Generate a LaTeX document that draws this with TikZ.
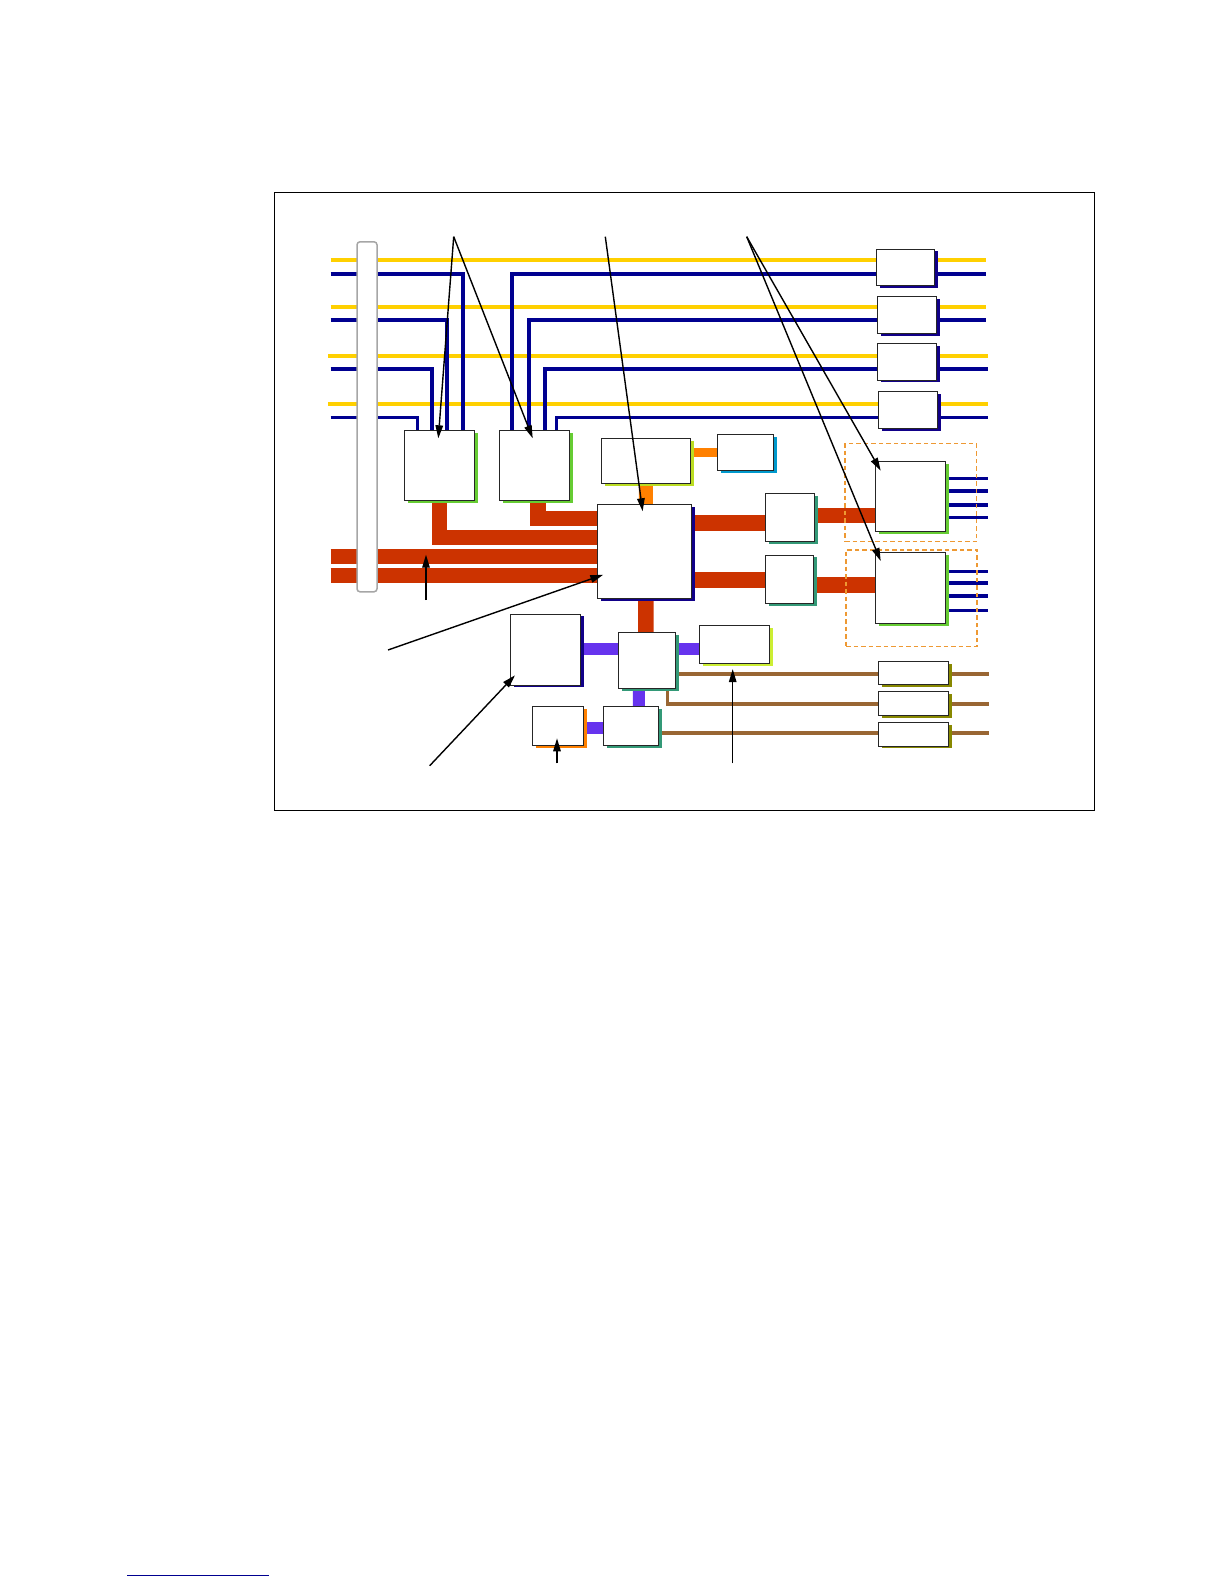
\documentclass[tikz,border=0pt]{standalone}
\usepackage{amssymb,amsmath}
\usepackage{tikz}
\usetikzlibrary{arrows.meta,calc,shadows,backgrounds}

\definecolor{busyellow}{HTML}{FFD000}
\definecolor{busblue}{HTML}{000090}
\definecolor{busred}{HTML}{CC3300}
\definecolor{busorange}{HTML}{FF8000}
\definecolor{buspurple}{HTML}{6633EE}
\definecolor{busbrown}{HTML}{996633}
\definecolor{shgreen}{HTML}{66CC33}
\definecolor{shlime}{HTML}{BBDD22}
\definecolor{shyellow}{HTML}{CCEE33}
\definecolor{shcyan}{HTML}{0099CC}
\definecolor{shteal}{HTML}{339977}
\definecolor{shnavy}{HTML}{110088}
\definecolor{sholive}{HTML}{888800}
\definecolor{dashorange}{HTML}{EE9933}

\tikzset{
	block/.style={draw=black!85,fill=white,line width=1pt,inner sep=0pt,outer sep=0pt},
	shblock/.style={block,drop shadow={shadow xshift=3.7pt,shadow yshift=-2.4pt,fill=#1,opacity=1}},
	yellowbus/.style={busyellow,line width=4pt},
	bluebus/.style={busblue,line width=4pt},
	thinbus/.style={busblue,line width=3pt},
	redbus/.style={busred,line width=15.5pt},
	orangebus/.style={busorange,line width=14pt},
	purplebus/.style={buspurple,line width=12pt},
	brownbus/.style={busbrown,line width=3.6pt},
	dashbox/.style={draw=dashorange,line width=1.5pt,dash pattern=on 4.5pt off 3pt,inner sep=0pt,outer sep=0pt},
	callout/.style={->,black,line width=1.4pt}
}

\begin{document}
\begin{tikzpicture}[x=1pt,y=-1pt,>={Stealth[length=13pt,width=7.5pt,inset=0pt]}]
			\useasboundingbox (0,0) rectangle (1224,1584);
			\node[draw=black,line width=1.2pt,inner sep=0pt,minimum width=820pt,minimum height=618pt] (frame) at (684.3,501.3) {};

			% side bar
			\node[draw=black!35,fill=white,line width=1.5pt,rounded corners=3pt,inner sep=0pt,outer sep=0pt,minimum width=20pt,minimum height=350pt] (bar) at (367,416.8) {};

			% upper blocks
			\node[shblock=shgreen,minimum width=70pt,minimum height=70pt] (memA) at (439.3,465.3) {};
			\node[shblock=shgreen,minimum width=70pt,minimum height=70pt] (memB) at (534.7,465.3) {};
			\node[shblock=shlime,minimum width=88.3pt,minimum height=44.6pt] (ctrl) at (645.85,461) {};
			\node[shblock=shcyan,minimum width=56.4pt,minimum height=36pt] (aux) at (745.5,452.3) {};
			\node[shblock=shnavy,minimum width=93.7pt,minimum height=94pt] (hub) at (644.15,551.3) {};
			\node[shblock=shteal,minimum width=48.6pt,minimum height=48pt] (bridgeA) at (790,517.7) {};
			\node[shblock=shteal,minimum width=48pt,minimum height=48.7pt] (bridgeB) at (789.7,579.35) {};
			\node[shblock=shgreen,minimum width=70pt,minimum height=69.6pt] (portA) at (910,496.5) {};
			\node[shblock=shgreen,minimum width=70pt,minimum height=70.6pt] (portB) at (910,588) {};

			% blocks on the long buses
			\node[shblock=shnavy,minimum width=58pt,minimum height=36.3pt] (linkA) at (905.3,267.15) {};
			\node[shblock=shnavy,minimum width=59.4pt,minimum height=37.4pt] (linkB) at (907,315) {};
			\node[shblock=shnavy,minimum width=59.4pt,minimum height=36.3pt] (linkC) at (907,361.85) {};
			\node[shblock=shnavy,minimum width=58.6pt,minimum height=36.6pt] (linkD) at (908,410) {};

			% lower blocks
			\node[shblock=shnavy,minimum width=70.4pt,minimum height=71pt] (store) at (545.5,649.5) {};
			\node[shblock=shteal,minimum width=56.3pt,minimum height=56pt] (south) at (646.85,660.3) {};
			\node[shblock=shyellow,minimum width=70.3pt,minimum height=38pt] (video) at (734.15,644.7) {};
			\node[shblock=busorange,minimum width=51pt,minimum height=39pt] (flash) at (558.2,725.8) {};
			\node[shblock=shteal,minimum width=55pt,minimum height=39pt] (super) at (631.2,725.8) {};
			\node[shblock=sholive,minimum width=70pt,minimum height=23.4pt] (slotA) at (913.3,673) {};
			\node[shblock=sholive,minimum width=70pt,minimum height=24pt] (slotB) at (913.3,703.3) {};
			\node[shblock=sholive,minimum width=70pt,minimum height=23.7pt] (slotC) at (913.3,734.15) {};

			% dashed groups
			\node[dashbox,minimum width=131.3pt,minimum height=98pt] (groupA) at (910.65,492.7) {};
			\node[dashbox,minimum width=131pt,minimum height=96.3pt] (groupB) at (911.5,598.15) {};

			% free ends
			\coordinate (y1w) at (330.7,260.3);
			\coordinate (y1e) at (985.7,260.3);
			\coordinate (y2w) at (330.7,307);
			\coordinate (y2e) at (985.7,307);
			\coordinate (y3w) at (328,355.7);
			\coordinate (y3e) at (987.7,355.7);
			\coordinate (y4w) at (328,404);
			\coordinate (y4e) at (987.7,404);
			\coordinate (b1w) at (330.7,274.3);
			\coordinate (b1e) at (985.7,274.3);
			\coordinate (b2w) at (330.7,320);
			\coordinate (b2e) at (985.7,320);
			\coordinate (b3w) at (330.7,369.3);
			\coordinate (b3e) at (987.7,369.3);
			\coordinate (b4w) at (330.7,417.7);
			\coordinate (b4e) at (987.7,417.7);
			\coordinate (redA) at (330.7,556.7);
			\coordinate (redB) at (330.7,575.5);
			\coordinate (railA) at (0,522.8);
			\coordinate (railB) at (0,579.8);
			\coordinate (railC) at (0,515.3);
			\coordinate (railD) at (0,584.8);
			\coordinate (railE) at (0,649.3);
			\coordinate (railF) at (0,728.3);
			\coordinate (railG) at (0,452.3);
			\coordinate (brownA) at (988.7,673.7);
			\coordinate (brownB) at (988.7,703.7);
			\coordinate (brownC) at (988.7,732.7);
			\coordinate (outA1) at (988.3,478.7);
			\coordinate (outA2) at (988.3,491);
			\coordinate (outA3) at (988.3,505.3);
			\coordinate (outA4) at (988.3,517.7);
			\coordinate (outB1) at (988.3,571);
			\coordinate (outB2) at (988.3,582.7);
			\coordinate (outB3) at (988.3,596);
			\coordinate (outB4) at (988.3,610);
			\coordinate (footA) at (127,1575);
			\coordinate (footB) at (269,1575);

			\begin{scope}[on background layer]
				\draw[yellowbus] (y1w) -- (y1e);
				\draw[yellowbus] (y2w) -- (y2e);
				\draw[yellowbus] (y3w) -- (y3e);
				\draw[yellowbus] (y4w) -- (y4e);
				\draw[bluebus] (b1w) -| ([xshift=23.4pt]memA.north);
				\draw[bluebus] (b2w) -| ([xshift=8pt]memA.north);
				\draw[bluebus] (b3w) -| ([xshift=-7.6pt]memA.north);
				\draw[thinbus] (b4w) -| ([xshift=-22pt]memA.north);
				\draw[bluebus] (b1e) -| ([xshift=-22.7pt]memB.north);
				\draw[bluebus] (b2e) -| ([xshift=-6pt]memB.north);
				\draw[bluebus] (b3e) -| ([xshift=10pt]memB.north);
				\draw[thinbus] (b4e) -| ([xshift=22pt]memB.north);
				\draw[redbus] (memA.south) |- ([yshift=13.6pt]hub.west);
				\draw[redbus] ([xshift=3.3pt]memB.south) |- ([yshift=33pt]hub.west);
				\draw[redbus] (redA) -- (hub.west |- redA);
				\draw[redbus] (redB) -- (hub.west |- redB);
				\draw[redbus] (hub.east |- railA) -- (bridgeA.west |- railA);
				\draw[redbus] (hub.east |- railB) -- (bridgeB.west |- railB);
				\draw[redbus] (bridgeA.east |- railC) -- (portA.west |- railC);
				\draw[redbus] (bridgeB.east |- railD) -- (portB.west |- railD);
				\draw[redbus] ([xshift=1.7pt]hub.south) -- ([xshift=-1pt]south.north);
				\draw[orangebus] (ctrl.south) -- ([xshift=1.7pt]hub.north);
				\draw[busorange,line width=9pt] (ctrl.east |- railG) -- (aux.west |- railG);
				\draw[purplebus] (store.east |- railE) -- (south.west |- railE);
				\draw[purplebus] (south.east |- railE) -- (video.west |- railE);
				\draw[purplebus] (flash.east |- railF) -- (super.west |- railF);
				\draw[purplebus] ([xshift=-8pt]south.south) -- ([xshift=7.65pt]super.north);
				\draw[brownbus] (south.east |- brownA) -- (brownA);
				\draw[brownbus] (brownB) -| ([xshift=20.8pt]south.south);
				\draw[brownbus] (super.east |- brownC) -- (brownC);
				\draw[thinbus] (portA.east |- outA1) -- (outA1);
				\draw[bluebus] (portA.east |- outA2) -- (outA2);
				\draw[bluebus] (portA.east |- outA3) -- (outA3);
				\draw[thinbus] (portA.east |- outA4) -- (outA4);
				\draw[thinbus] (portB.east |- outB1) -- (outB1);
				\draw[bluebus] (portB.east |- outB2) -- (outB2);
				\draw[bluebus] (portB.east |- outB3) -- (outB3);
				\draw[thinbus] (portB.east |- outB4) -- (outB4);
			\end{scope}

			\draw[busblue,line width=1pt] (footA) -- (footB);

			% callouts
			\coordinate (tipA) at (453.7,236.7);
			\coordinate (tipB) at (605.3,236.7);
			\coordinate (tipC) at (746.7,236.7);
			\coordinate (tipD) at (426,600);
			\coordinate (tipE) at (388,650);
			\coordinate (tipF) at (429.7,765.7);
			\coordinate (tipG) at (557,763.3);
			\coordinate (tipH) at (732.7,763.3);
			\path[callout]
			(tipA) edge ([xshift=-1pt,yshift=-8pt]memA.north)
			(tipA) edge ([xshift=-2pt,yshift=-8pt]memB.north)
			(tipB) edge ([xshift=-1.5pt,yshift=-7pt]hub.north)
			(tipC) edge ([xshift=5.7pt,yshift=-9pt]portA.north west)
			(tipC) edge ([xshift=5.7pt,yshift=-8.3pt]portB.north west)
			(tipD) edge ([yshift=2pt]redA -| tipD)
			(tipE) edge ([xshift=6pt,yshift=-23.4pt]hub.west)
			(tipF) edge ([xshift=4.7pt,yshift=-25.8pt]store.west)
			(tipG) edge ([xshift=-1.2pt,yshift=7pt]flash.south)
			(tipH) edge ([xshift=-1.45pt,yshift=-5.4pt]video.south);
		\end{tikzpicture}
\end{document}
